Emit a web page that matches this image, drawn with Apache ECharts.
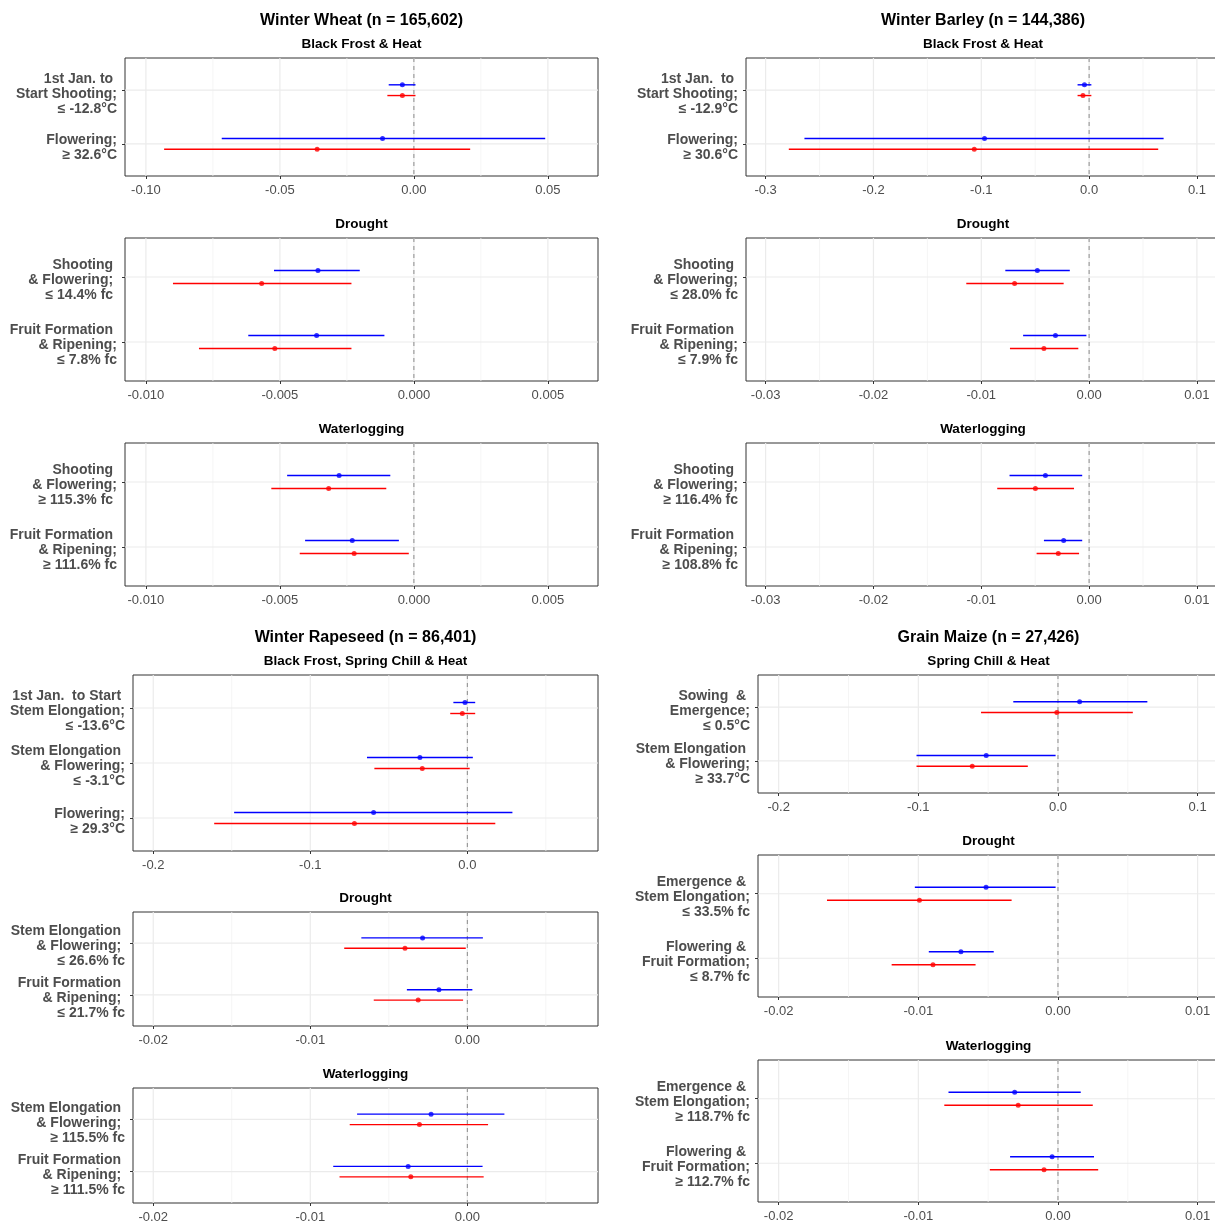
<!DOCTYPE html>
<html>
<head>
<meta charset="utf-8">
<script src="https://cdn.jsdelivr.net/npm/echarts@6/dist/echarts.min.js"></script>
<style>
  html, body { margin: 0; padding: 0; background: #ffffff; }
  #chart { width: 1215px; height: 1221px; }
</style>
</head>
<body>
<div id="chart"></div>
<script>
// Effect estimates per crop and stress type: rows are [lower, estimate, upper].

// Winter wheat
const wheatFrostLabels = ['1st Jan. to \nStart Shooting;\n≤ -12.8°C', 'Flowering;\n≥ 32.6°C'];
const wheatFrostBlue = [[-0.0094, -0.0043, 0.0006], [-0.0717, -0.0117, 0.0490]];
const wheatFrostRed  = [[-0.0099, -0.0043, 0.0006], [-0.0932, -0.0361, 0.0210]];
const wheatFrostTicks = [-0.10, -0.05, 0.00, 0.05];

const wheatDroughtLabels = ['Shooting \n& Flowering; \n≤ 14.4% fc ', 'Fruit Formation \n& Ripening;\n≤ 7.8% fc'];
const wheatDroughtBlue = [[-0.00522, -0.00358, -0.00202], [-0.00618, -0.00363, -0.00110]];
const wheatDroughtRed  = [[-0.00899, -0.00568, -0.00233], [-0.00802, -0.00519, -0.00233]];
const wheatDroughtTicks = [-0.010, -0.005, 0.000, 0.005];

const wheatWaterLabels = ['Shooting \n& Flowering;\n≥ 115.3% fc ', 'Fruit Formation \n& Ripening;\n≥ 111.6% fc'];
const wheatWaterBlue = [[-0.00473, -0.00279, -0.00088], [-0.00406, -0.00230, -0.00056]];
const wheatWaterRed  = [[-0.00532, -0.00318, -0.00103], [-0.00426, -0.00223, -0.00019]];
const wheatWaterTicks = [-0.010, -0.005, 0.000, 0.005];

// Winter barley
const barleyFrostLabels = ['1st Jan.  to \nStart Shooting;\n≤ -12.9°C', 'Flowering;\n≥ 30.6°C'];
const barleyFrostBlue = [[-0.0107, -0.0043, 0.0021], [-0.2640, -0.0970, 0.0691]];
const barleyFrostRed  = [[-0.0107, -0.0057, 0.0021], [-0.2785, -0.1065, 0.0641]];
const barleyFrostTicks = [-0.3, -0.2, -0.1, 0.0, 0.1];

const barleyDroughtLabels = ['Shooting \n& Flowering;\n≤ 28.0% fc', 'Fruit Formation \n& Ripening;\n≤ 7.9% fc'];
const barleyDroughtBlue = [[-0.00777, -0.00480, -0.00179], [-0.00612, -0.00312, -0.00025]];
const barleyDroughtRed  = [[-0.01139, -0.00691, -0.00236], [-0.00734, -0.00419, -0.00100]];
const barleyDroughtTicks = [-0.03, -0.02, -0.01, 0.00, 0.01];

const barleyWaterLabels = ['Shooting \n& Flowering;\n≥ 116.4% fc', 'Fruit Formation \n& Ripening;\n≥ 108.8% fc'];
const barleyWaterBlue = [[-0.00738, -0.00405, -0.00064], [-0.00419, -0.00236, -0.00064]];
const barleyWaterRed  = [[-0.00852, -0.00498, -0.00140], [-0.00487, -0.00286, -0.00093]];
const barleyWaterTicks = [-0.03, -0.02, -0.01, 0.00, 0.01];

// Winter rapeseed
const rapeFrostLabels = ['1st Jan.  to Start \nStem Elongation;\n≤ -13.6°C', 'Stem Elongation \n& Flowering;\n≤ -3.1°C', 'Flowering;\n≥ 29.3°C'];
const rapeFrostBlue = [[-0.0089, -0.0015, 0.0050], [-0.0639, -0.0302, 0.0035], [-0.1485, -0.0597, 0.0287]];
const rapeFrostRed  = [[-0.0109, -0.0032, 0.0050], [-0.0592, -0.0287, 0.0015], [-0.1612, -0.0719, 0.0178]];
const rapeFrostTicks = [-0.2, -0.1, 0.0];

const rapeDroughtLabels = ['Stem Elongation \n& Flowering; \n≤ 26.6% fc', 'Fruit Formation \n& Ripening; \n≤ 21.7% fc'];
const rapeDroughtBlue = [[-0.00675, -0.00285, 0.00099], [-0.00385, -0.00181, 0.00032]];
const rapeDroughtRed  = [[-0.00784, -0.00397, -0.00010], [-0.00596, -0.00313, -0.00027]];
const rapeDroughtTicks = [-0.02, -0.01, 0.00];

const rapeWaterLabels = ['Stem Elongation \n& Flowering; \n≥ 115.5% fc', 'Fruit Formation \n& Ripening; \n≥ 111.5% fc'];
const rapeWaterBlue = [[-0.00702, -0.00231, 0.00236], [-0.00854, -0.00377, 0.00097]];
const rapeWaterRed  = [[-0.00749, -0.00305, 0.00132], [-0.00814, -0.00360, 0.00104]];
const rapeWaterTicks = [-0.02, -0.01, 0.00];

// Grain maize
const maizeChillLabels = ['Sowing  & \nEmergence;\n≤ 0.5°C', 'Stem Elongation \n& Flowering;\n≥ 33.7°C'];
const maizeChillBlue = [[-0.0320, 0.0155, 0.0640], [-0.1013, -0.0514, -0.0017]];
const maizeChillRed  = [[-0.0551, -0.0008, 0.0536], [-0.1013, -0.0614, -0.0216]];
const maizeChillTicks = [-0.2, -0.1, 0.0, 0.1];

const maizeDroughtLabels = ['Emergence & \nStem Elongation;\n≤ 33.5% fc', 'Flowering & \nFruit Formation;\n≤ 8.7% fc'];
const maizeDroughtBlue = [[-0.01025, -0.00515, -0.00017], [-0.00925, -0.00695, -0.00460]];
const maizeDroughtRed  = [[-0.01654, -0.00992, -0.00332], [-0.01191, -0.00895, -0.00590]];
const maizeDroughtTicks = [-0.02, -0.01, 0.00, 0.01];

const maizeWaterLabels = ['Emergence & \nStem Elongation;\n≥ 118.7% fc', 'Flowering & \nFruit Formation;\n≥ 112.7% fc'];
const maizeWaterBlue = [[-0.00784, -0.00310, 0.00163], [-0.00343, -0.00042, 0.00258]];
const maizeWaterRed  = [[-0.00814, -0.00285, 0.00249], [-0.00488, -0.00100, 0.00288]];
const maizeWaterTicks = [-0.02, -0.01, 0.00, 0.01];

// Panel layout: box = [left, top, width, height] in px, x range per panel
const panels = [
  { title: 'Winter Wheat (n = 165,602)', sub: 'Black Frost & Heat', labels: wheatFrostLabels, blue: wheatFrostBlue, red: wheatFrostRed, ticks: wheatFrostTicks, digits: 2, min: -0.1078, max: 0.0687, box: [125, 58, 473, 118] },
  { sub: 'Drought', labels: wheatDroughtLabels, blue: wheatDroughtBlue, red: wheatDroughtRed, ticks: wheatDroughtTicks, digits: 3, min: -0.01078, max: 0.00687, box: [125, 238, 473, 143] },
  { sub: 'Waterlogging', labels: wheatWaterLabels, blue: wheatWaterBlue, red: wheatWaterRed, ticks: wheatWaterTicks, digits: 3, min: -0.01078, max: 0.00687, box: [125, 443, 473, 143] },

  { title: 'Winter Barley (n = 144,386)', sub: 'Black Frost & Heat', labels: barleyFrostLabels, blue: barleyFrostBlue, red: barleyFrostRed, ticks: barleyFrostTicks, digits: 1, min: -0.3182, max: 0.1214, box: [746, 58, 474, 118] },
  { sub: 'Drought', labels: barleyDroughtLabels, blue: barleyDroughtBlue, red: barleyDroughtRed, ticks: barleyDroughtTicks, digits: 2, min: -0.03182, max: 0.01214, box: [746, 238, 474, 143] },
  { sub: 'Waterlogging', labels: barleyWaterLabels, blue: barleyWaterBlue, red: barleyWaterRed, ticks: barleyWaterTicks, digits: 2, min: -0.03182, max: 0.01214, box: [746, 443, 474, 143] },

  { title: 'Winter Rapeseed (n = 86,401)', sub: 'Black Frost, Spring Chill & Heat', labels: rapeFrostLabels, blue: rapeFrostBlue, red: rapeFrostRed, ticks: rapeFrostTicks, digits: 1, min: -0.2129, max: 0.0832, box: [133, 675, 465, 176] },
  { sub: 'Drought', labels: rapeDroughtLabels, blue: rapeDroughtBlue, red: rapeDroughtRed, ticks: rapeDroughtTicks, digits: 2, min: -0.02129, max: 0.00832, box: [133, 912, 465, 114] },
  { sub: 'Waterlogging', labels: rapeWaterLabels, blue: rapeWaterBlue, red: rapeWaterRed, ticks: rapeWaterTicks, digits: 2, min: -0.02129, max: 0.00832, box: [133, 1088, 465, 115] },

  { title: 'Grain Maize (n = 27,426)', sub: 'Spring Chill & Heat', labels: maizeChillLabels, blue: maizeChillBlue, red: maizeChillRed, ticks: maizeChillTicks, digits: 1, min: -0.2148, max: 0.1153, box: [758, 675, 461, 118] },
  { sub: 'Drought', labels: maizeDroughtLabels, blue: maizeDroughtBlue, red: maizeDroughtRed, ticks: maizeDroughtTicks, digits: 2, min: -0.02148, max: 0.01153, box: [758, 855, 461, 142] },
  { sub: 'Waterlogging', labels: maizeWaterLabels, blue: maizeWaterBlue, red: maizeWaterRed, ticks: maizeWaterTicks, digits: 2, min: -0.02148, max: 0.01153, box: [758, 1060, 461, 142] }
];

const FONT = '"Liberation Sans", Arial, Helvetica, sans-serif';
const BLUE = '#0000FF';
const RED = '#FF0000';
const DODGE = 0.1;
const LABEL_DROP_PX = 3.5; // multi-line category labels sit a little below their tick

const grid = [], xAxis = [], yAxis = [], series = [], graphic = [];

panels.forEach((p, i) => {
  const n = p.labels.length;
  const cats = p.labels.map((_, k) => k + 1);
  const drop = LABEL_DROP_PX * (n + 0.2) / p.box[3];
  const step = p.ticks[1] - p.ticks[0];
  const minors = [];
  for (let t = p.ticks[0] - step / 2; t <= p.max + 1e-12; t += step) {
    if (t >= p.min) minors.push(t);
  }

  grid.push({
    left: p.box[0], top: p.box[1], width: p.box[2], height: p.box[3],
    containLabel: false, outerBoundsMode: 'none',
    show: true, borderColor: '#333333', borderWidth: 1, backgroundColor: 'transparent'
  });

  xAxis.push({
    gridIndex: i, type: 'value', min: p.min, max: p.max, position: 'bottom',
    axisLine: { show: false, onZero: false },
    axisTick: { show: true, length: 3, customValues: p.ticks, lineStyle: { color: '#333333', width: 1 } },
    axisLabel: {
      customValues: p.ticks, formatter: v => Number(v).toFixed(p.digits),
      color: '#4D4D4D', fontSize: 13, fontFamily: FONT, margin: 8
    },
    splitLine: { show: false }, minorSplitLine: { show: false }
  });

  yAxis.push({
    gridIndex: i, type: 'value', inverse: true, min: 0.4, max: n + 0.6, position: 'left',
    axisLine: { show: false, onZero: false },
    axisTick: { show: true, length: 3, customValues: cats, lineStyle: { color: '#333333', width: 1 } },
    axisLabel: {
      customValues: cats.map(c => c + drop), formatter: v => p.labels[Math.round(v) - 1],
      color: '#4D4D4D', fontSize: 14, fontWeight: 'bold', fontFamily: FONT,
      lineHeight: 15, margin: 8, align: 'right'
    },
    splitLine: { show: false }
  });

  // background grid: [value, orientation (0 vertical, 1 horizontal), kind (0 major, 1 minor, 2 zero line)]
  const gridData = []
    .concat(minors.map(v => [v, 0, 1]))
    .concat(p.ticks.map(v => [v, 0, 0]))
    .concat(cats.map(c => [c, 1, 0]))
    .concat([[0, 0, 2]]);

  series.push({
    type: 'custom', xAxisIndex: i, yAxisIndex: i, silent: true, z: 1,
    data: gridData,
    renderItem: (params, api) => {
      const v = api.value(0), orient = api.value(1), kind = api.value(2);
      let a, b;
      if (orient === 0) { a = api.coord([v, 0.4]); b = api.coord([v, n + 0.6]); }
      else { a = api.coord([p.min, v]); b = api.coord([p.max, v]); }
      const style = kind === 2
        ? { stroke: '#8C8C8C', lineWidth: 1, lineDash: [4, 4] }
        : { stroke: kind === 1 ? '#F3F3F3' : '#EBEBEB', lineWidth: kind === 1 ? 0.8 : 1.2 };
      return { type: 'line', shape: { x1: a[0], y1: a[1], x2: b[0], y2: b[1] }, style: style };
    }
  });

  [[p.blue, -DODGE, BLUE], [p.red, DODGE, RED]].forEach(([rows, off, color]) => {
    series.push({
      type: 'custom', xAxisIndex: i, yAxisIndex: i, silent: true, z: 2,
      encode: { x: [0, 2], y: 1 },
      data: rows.map((r, k) => [r[0], k + 1 + off, r[2]]),
      renderItem: (params, api) => {
        const y = api.value(1);
        const a = api.coord([api.value(0), y]);
        const b = api.coord([api.value(2), y]);
        return { type: 'line', shape: { x1: a[0], y1: a[1], x2: b[0], y2: b[1] }, style: { stroke: color, lineWidth: 1.4 } };
      }
    });
    series.push({
      type: 'scatter', xAxisIndex: i, yAxisIndex: i, silent: true, z: 3,
      symbol: 'circle', symbolSize: 5,
      itemStyle: { color: color },
      data: rows.map((r, k) => [r[1], k + 1 + off])
    });
  });

  const cx = p.box[0] + p.box[2] / 2;
  if (p.title) {
    graphic.push({
      type: 'text', x: cx, y: p.box[1] - 37, silent: true,
      style: { text: p.title, align: 'center', verticalAlign: 'middle', textAlign: 'center', textVerticalAlign: 'middle',
               fontSize: 16, fontWeight: 'bold', fontFamily: FONT, fill: '#000000' }
    });
  }
  graphic.push({
    type: 'text', x: cx, y: p.box[1] - 14, silent: true,
    style: { text: p.sub, align: 'center', verticalAlign: 'middle', textAlign: 'center', textVerticalAlign: 'middle',
             fontSize: 13.5, fontWeight: 'bold', fontFamily: FONT, fill: '#000000' }
  });
});

const chart = echarts.init(document.getElementById('chart'), null, { renderer: 'canvas' });
chart.setOption({
  animation: false,
  backgroundColor: '#ffffff',
  textStyle: { fontFamily: FONT },
  grid: grid,
  xAxis: xAxis,
  yAxis: yAxis,
  series: series,
  graphic: graphic
});
</script>
</body>
</html>
